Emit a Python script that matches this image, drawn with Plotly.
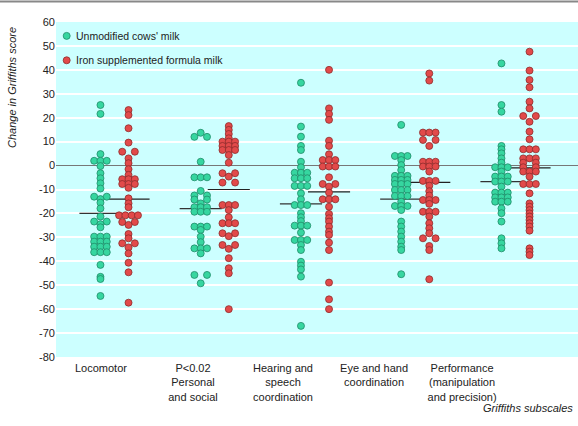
import plotly.graph_objects as go

# ---------------- data ----------------
CATEGORIES = ["Locomotor", "P&lt;0.02<br>Personal<br>and social", "Hearing and<br>speech<br>coordination",
              "Eye and hand<br>coordination", "Performance<br>(manipulation<br>and precision)"]
SERIES_NAMES = ["Unmodified cows' milk", "Iron supplemented formula milk"]

loco_cow = [25.3, 21.6, 4.8, 2, 2, 2, -0.2, -3.2, -5.3, -7.4, -9.6, -13, -13, -14, -15.5, -17.9, -21.3,
            -23.4, -23.4, -24.5, -25.8, -29.7, -29.7, -29.7, -31.8, -31.8, -31.8, -33.9, -33.9, -33.9,
            -36.2, -36.2, -36.2, -41.5, -46.5, -47.4, -54.5]
loco_iron = [23.2, 21.1, 15.6, 9.6, 5.8, 5.8, 3, 1, -1.5, -3.9, -5.7, -5.7, -5.7, -7.7, -7.7, -7.7, -9.3,
             -13.7, -15.8, -17.4, -20.8, -20.8, -20.8, -20.8, -23.6, -23.6, -24.8, -28.6, -30.4, -32.5,
             -32.5, -34.2, -36.7, -40.6, -44.6, -57.3]
pers_cow = [13.7, 12, 12, 1.6, -4.9, -4.9, -4.9, -10.6, -12.5, -12.5, -14.2, -14.2, -15.8, -17.4, -17.4,
            -17.4, -19.3, -19.3, -19.3, -25.5, -25.5, -25.5, -26.9, -29.7, -32, -34.6, -34.6, -34.6, -36.7,
            -45.7, -45.7, -49.2]
pers_iron = [16.5, 14.9, 13.2, 11.4, 10, 10, 10, 8.2, 8.2, 8.2, 6.5, 6.5, 6.5, 4.4, 1.2, -3.2, -3.2, -4.6,
             -7.1, -7.1, -16.5, -16.5, -16.5, -18.6, -21.6, -24.1, -24.1, -24.1, -28.3, -28.3, -29.5,
             -33.2, -33.2, -34.8, -38.7, -42.9, -45, -60]
hear_cow = [34.6, 16.3, 12.1, 8.2, 6.5, 1.6, -0.7, -3, -3, -3, -5.3, -5.3, -5.3, -8.5, -8.5, -8.5, -11.6,
            -14.1, -16.5, -16.5, -16.5, -19.9, -21.6, -23.2, -25.1, -25.1, -25.1, -28, -31.1, -31.1, -31.1,
            -33.2, -35.3, -40.2, -41.8, -43.4, -46.4, -67]
hear_iron = [40, 23.9, 21.6, 19.1, 10.4, 8.2, 4.7, 2.3, 2.3, 2.3, -0.4, -0.4, -0.4, -4.9, -7.7, -7.7, -8.8,
             -11.3, -14.1, -14.1, -14.1, -17.2, -20.2, -22, -23.4, -25.5, -27.6, -29, -32.2, -35.3, -48.9,
             -55.9, -60]
eye_cow = [17, 4, 4, 4, 2.3, 0.2, -1.9, -4.3, -4.3, -4.3, -6, -6, -6, -7.7, -7.7, -7.7, -10.2, -10.2,
           -10.2, -12.7, -12.7, -12.7, -15.1, -16.9, -16.9, -16.9, -18.6, -23.4, -25.5, -27.6, -29.7,
           -31.8, -33.9, -35.3, -45.4]
eye_iron = [38.5, 35.5, 13.8, 13.8, 13.8, 10.7, 10.7, 8.2, 1.6, 1.6, 1.6, -0.4, -0.4, -0.4, -2.5, -6.4,
            -6.4, -6.4, -8.4, -10.7, -12.5, -14.4, -14.4, -14.4, -16, -19.3, -19.3, -19.3, -21.3, -24.1,
            -26.2, -28.3, -30.4, -30.4, -33.6, -35.3, -47.5]
perf_cow = [42.7, 25.3, 22.5, 8.2, 6.8, 5.1, 3, 1.2, -0.7, -0.7, -0.7, -2.5, -4.6, -4.6, -4.6, -6.7, -6.7,
            -6.7, -8.8, -11.3, -11.3, -11.3, -13.3, -13.3, -13.3, -15.1, -15.1, -15.1, -17.9, -19.9, -23.4,
            -30.4, -32.5, -34.6]
perf_iron = [47.6, 39.7, 35.8, 32.7, 26.7, 23.9, 20.7, 20.7, 18.3, 14.2, 11, 6.8, 6.8, 6.8, 3, 3, 3, 1.2,
             1.2, -0.7, -0.7, -2.5, -2.5, -2.5, -4.6, -7.7, -7.7, -7.7, -11.6, -15.8, -17.2, -18.6, -20,
             -21.3, -22.7, -24.1, -25.5, -27.2, -34.6, -36, -37.4]

COW = [loco_cow, pers_cow, hear_cow, eye_cow, perf_cow]
IRON = [loco_iron, pers_iron, hear_iron, eye_iron, perf_iron]
COW_MEANS = [-20, -18, -16, -14, -6.7]
IRON_MEANS = [-14, -10, -11, -7, -1]

Y_TICKS = list(range(-80, 61, 10))
Y_TICKTEXT = [str(v) for v in Y_TICKS]

# ---------------- layout constants ----------------
X_RANGE = [0.4165, 5.6235]
PLOT_W, PLOT_H = 522, 335
PX_PER_X = PLOT_W / (X_RANGE[1] - X_RANGE[0])
GROUP_X = [1, 2, 3, 4, 5]
LABEL_X = [0.865, 1.783, 2.681, 3.589, 4.467]
COL_SHIFT = 0.14
STEP_PX = 6.3
HALF_LINE = 0.21

GREEN, GREEN_EDGE = "#36d6a0", "#1f8c68"
RED, RED_EDGE = "#e24a4a", "#8e2c2c"
FONT = "Liberation Sans, Arial, sans-serif"


def swarm_x(vals, center):
    """Spread identical values symmetrically sideways."""
    groups = {}
    for i, v in enumerate(vals):
        groups.setdefault(v, []).append(i)
    xs = [0.0] * len(vals)
    for v, idx in groups.items():
        n = len(idx)
        if n == 1:
            offs = [0]
        elif n == 2:
            offs = [-1, 1]
        elif n == 3:
            offs = [-1, 0, 1]
        else:
            offs = [k - (n - 1) / 2 for k in range(n)]
        for i, o in zip(idx, offs):
            xs[i] = center + o * STEP_PX / PX_PER_X
    return xs


fig = go.Figure()

# mean lines (beneath the dots)
for means, shift, col in [(COW_MEANS, -COL_SHIFT, "#333333"), (IRON_MEANS, COL_SHIFT, "#222222")]:
    lx, ly = [], []
    for g, m in zip(GROUP_X, means):
        lx += [g + shift - HALF_LINE, g + shift + HALF_LINE, None]
        ly += [m, m, None]
    fig.add_trace(go.Scatter(x=lx, y=ly, mode="lines", line=dict(color=col, width=1.2),
                             hoverinfo="skip", showlegend=False))

for data, shift, fill, edge, name in [(COW, -COL_SHIFT, GREEN, GREEN_EDGE, SERIES_NAMES[0]),
                                      (IRON, COL_SHIFT, RED, RED_EDGE, SERIES_NAMES[1])]:
    xs, ys = [], []
    for g, vals in zip(GROUP_X, data):
        xs += swarm_x(vals, g + shift)
        ys += vals
    fig.add_trace(go.Scatter(x=xs, y=ys, mode="markers", name=name, showlegend=False,
                             marker=dict(size=7, color=fill, line=dict(color=edge, width=0.8))))

# legend drawn as shapes + text
for yv, fill, edge, name in [(54.2, GREEN, GREEN_EDGE, SERIES_NAMES[0]),
                             (44.0, RED, RED_EDGE, SERIES_NAMES[1])]:
    fig.add_shape(type="circle", xref="x", yref="y", xsizemode="pixel", ysizemode="pixel",
                  xanchor=0.523, yanchor=yv, x0=-3.5, x1=3.5, y0=-3.5, y1=3.5,
                  fillcolor=fill, line=dict(color=edge, width=0.8))
    fig.add_annotation(x=0.594, y=yv, xref="x", yref="y", text=name, showarrow=False,
                       xanchor="left", yanchor="middle", font=dict(family=FONT, size=10.5, color="#222"))

# top rule of the page
fig.add_shape(type="line", xref="paper", yref="paper", x0=-56 / PLOT_W, x1=1,
              y0=1 + 20.5 / PLOT_H, y1=1 + 20.5 / PLOT_H, line=dict(color="#888888", width=2))

fig.add_annotation(text="<i>Change in Griffiths score</i>", textangle=-90, xref="paper", yref="paper",
                   x=-44 / PLOT_W, y=(357 - 88) / PLOT_H, showarrow=False, xanchor="center",
                   yanchor="middle", font=dict(family=FONT, size=11, color="#222"))
fig.add_annotation(text="<i>Griffiths subscales</i>", xref="paper", yref="paper",
                   x=1 - 3 / PLOT_W, y=(357 - 408) / PLOT_H, showarrow=False, xanchor="right",
                   yanchor="middle", font=dict(family=FONT, size=11, color="#222"))

fig.update_layout(
    width=578, height=426,
    margin=dict(l=56, r=0, t=22, b=69),
    paper_bgcolor="white", plot_bgcolor="#ccffff",
    font=dict(family=FONT, size=11, color="#222"),
    xaxis=dict(range=X_RANGE, showgrid=False, zeroline=False, showline=False, ticks="",
               tickvals=LABEL_X, ticktext=CATEGORIES, tickfont=dict(size=11), fixedrange=True,
               ticklabelstandoff=3),
    yaxis=dict(range=[-80, 60], tickvals=Y_TICKS, ticktext=Y_TICKTEXT, showgrid=True,
               gridcolor="white", gridwidth=1.5, zeroline=True, zerolinecolor="#777777",
               zerolinewidth=1.2, showline=False, ticks="", tickfont=dict(size=11)),
)

fig.write_html("out.html", config={"displayModeBar": False},
               post_script="document.body.style.margin='0px';document.body.style.overflow='hidden';")
